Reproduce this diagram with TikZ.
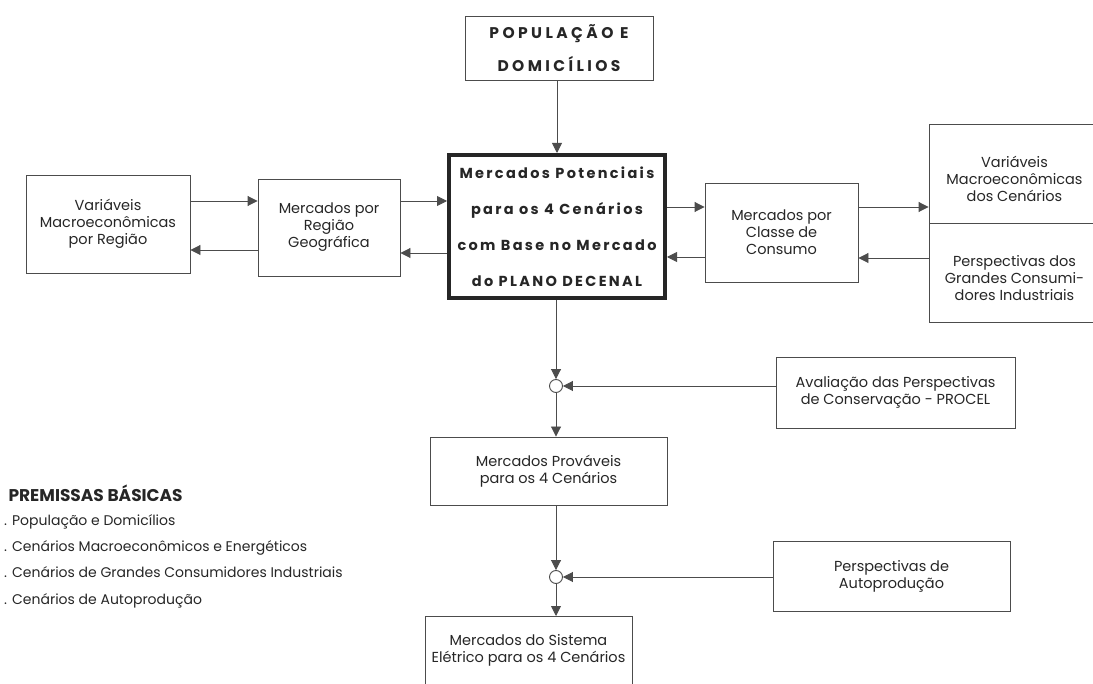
\documentclass[tikz,border=0pt]{standalone}
\usepackage{fontspec}
\setmainfont{Poppins}
\newfontfamily\espacee[LetterSpace=22]{Poppins}
\newfontfamily\espaceeb[LetterSpace=16]{Poppins}
\usetikzlibrary{positioning,arrows.meta}
\tikzstyle{bloc}=[rectangle, draw=black!70, line width=0.9pt, align=center, text=black!85, inner sep=0pt, font=\fontsize{14.5}{17}\selectfont]
\tikzstyle{fleche}=[draw=black!70, line width=0.9pt, -{Triangle[length=10pt,width=10pt]}]
\tikzstyle{somme}=[circle, draw=black!70, line width=0.9pt, fill=white, minimum size=13pt, inner sep=0pt]

\begin{document}
\begin{tikzpicture}[x=1pt,y=-1pt]
        \useasboundingbox (0,0) rectangle (1093,684);
        \clip (0,0) rectangle (1093,684);

        % Les nœuds
        \node[bloc, minimum width=188, minimum height=64, font=\espacee\bfseries\fontsize{15.5}{33}\selectfont] (pop) at (559,48) {POPULAÇÃO E\\DOMICÍLIOS};
        \node[bloc, minimum width=216, minimum height=143, line width=4pt, draw=black!85, font=\espaceeb\bfseries\fontsize{14.5}{36}\selectfont] (pot) at (557,226.5) {Mercados Potenciais\\para os 4 Cenários\\com Base no Mercado\\do PLANO DECENAL};
        \node[bloc, minimum width=164, minimum height=98] (varreg) at (108,224) {Variáveis\\Macroeconômicas\\por Região};
        \node[bloc, minimum width=142, minimum height=97] (mreg) at (329,227.5) {Mercados por\\Região\\Geográfica};
        \node[bloc, minimum width=153, minimum height=99] (mcons) at (781.5,232.5) {Mercados por\\Classe de\\Consumo};
        \node[bloc, minimum width=171, minimum height=99] (varcen) at (1014.5,173.5) {};
        \node[bloc, minimum width=171, minimum height=99] (gcons) at (1014.5,272.5) {};
        \node[bloc, draw=none] (varcentxt) at ([yshift=-5]varcen.center) {Variáveis\\Macroeconômicas\\dos Cenários};
        \node[bloc, draw=none] (gconstxt) at ([yshift=-6]gcons.center) {Perspectivas dos\\Grandes Consumi-\\dores Industriais};
        \node[somme] (s1) at (556,386) {};
        \node[bloc, minimum width=239, minimum height=71] (procel) at (895.5,392.5) {Avaliação das Perspectivas\\de Conservação - PROCEL};
        \node[bloc, minimum width=237, minimum height=68] (prov) at (548.5,471) {Mercados Prováveis\\para os 4 Cenários};
        \node[somme] (s2) at (556,577) {};
        \node[bloc, minimum width=237, minimum height=70] (auto) at (891.5,576) {Perspectivas de\\Autoprodução};
        \node[bloc, minimum width=207, minimum height=80, anchor=north] (sist) at (528.5,616) {};
        \node[bloc, draw=none] (sisttxt) at ([yshift=-34]sist.north) {Mercados do Sistema\\Elétrico para os 4 Cenários};

        % Premissas
        \node[anchor=west, text=black!85, font=\bfseries\fontsize{17}{20}\selectfont] (prem) at (5,493) {PREMISSAS BÁSICAS};
        \node[anchor=north west, align=left, inner sep=0pt, text=black!85, font=\fontsize{14}{26.3}\selectfont] (liste) at (4,514) {. População e Domicílios\\. Cenários Macroeconômicos e Energéticos\\. Cenários de Grandes Consumidores Industriais\\. Cenários de Autoprodução};

        % Les flèches
        \draw[fleche] (pop.south -| pot.north) -- (pot.north);
        \draw[fleche] (varreg.east |- 0,201) -- (mreg.west |- 0,201);
        \draw[fleche] (mreg.west |- 0,250) -- (varreg.east |- 0,250);
        \draw[fleche] (mreg.east |- 0,201) -- (pot.west |- 0,201);
        \draw[fleche] (pot.west |- 0,253) -- (mreg.east |- 0,253);
        \draw[fleche] (pot.east |- 0,207) -- (mcons.west |- 0,207);
        \draw[fleche] (mcons.west |- 0,257) -- (pot.east |- 0,257);
        \draw[fleche] (mcons.east |- 0,207) -- (varcen.west |- 0,207);
        \draw[fleche] (gcons.west |- 0,258) -- (mcons.east |- 0,258);
        \draw[fleche] (s1.north |- pot.south) -- (s1.north);
        \draw[fleche] (s1.south) -- (s1.south |- prov.north);
        \draw[fleche] (procel.west |- s1) -- (s1.east);
        \draw[fleche] (s2.north |- prov.south) -- (s2.north);
        \draw[fleche] (s2.south) -- (s2.south |- sist.north);
        \draw[fleche] (auto.west |- s2) -- (s2.east);
    \end{tikzpicture}
\end{document}
